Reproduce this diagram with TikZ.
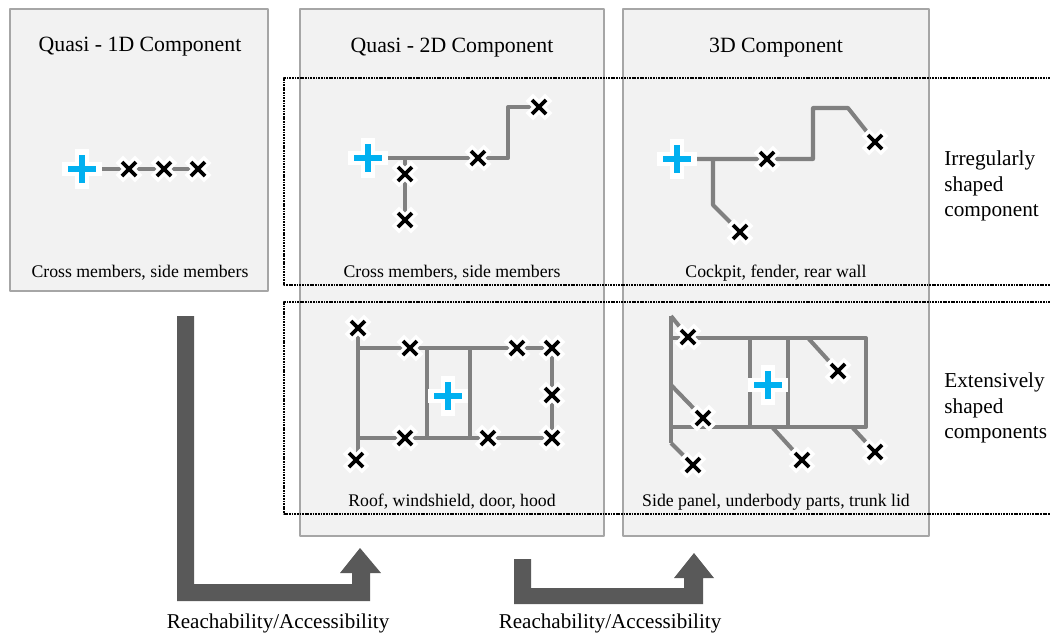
\documentclass[tikz,border=0pt]{standalone}
\usepackage{fontspec}
\setmainfont{Liberation Serif}
\definecolor{boxfill}{HTML}{F2F2F2}
\definecolor{boxline}{HTML}{A6A6A6}
\definecolor{member}{HTML}{808080}
\definecolor{weldblue}{HTML}{00B0F0}
\definecolor{arrowgray}{HTML}{595959}
\tikzset{
comp/.style={draw=boxline,fill=boxfill,line width=0.6pt},
group/.style={draw=black,dash pattern=on 1pt off 0.5pt,line width=0.8pt},
beam/.style={draw=member,line width=2.3pt},
title/.style={font=\fontsize{12.4}{14.7}\selectfont},
caption/.style={font=\fontsize{10.1}{12}\selectfont},
side/.style={font=\fontsize{12.1}{14.7}\selectfont,anchor=west,align=left,inner sep=0pt},
spot/.pic={\draw[white,line width=6pt,line cap=rect] (-6,-6)--(6,6) (-6,6)--(6,-6);
\draw[black,line width=2.1pt] (-7,-7)--(7,7) (-7,7)--(7,-7);},
origin/.pic={\draw[white,line width=7.5pt,line cap=rect] (-13,0)--(13,0) (0,-13)--(0,13);
\draw[weldblue,line width=3.4pt] (-14,0)--(14,0) (0,-14)--(0,14);}
}
\begin{document}
\begin{tikzpicture}[x=0.02cm,y=-0.02cm,line join=round]
\useasboundingbox (0,0) rectangle (1050,637);
\draw[comp] (10,9) rectangle (268,291);
\draw[comp] (300,9) rectangle (604,536);
\draw[comp] (623,9) rectangle (929,536);
\draw[group] (1050,78)--(284,78)--(284,285)--(1050,285);
\draw[group] (1050,302)--(284,302)--(284,514)--(1050,514);
\node[title] (t1) at (140,47) {Quasi - 1D Component};
\node[title] (t2) at (452,48) {Quasi - 2D Component};
\node[title] (t3) at (776,48) {3D Component};
\foreach \n/\p/\s in {c1/{140,273}/{Cross members, side members},c2/{452,273}/{Cross members, side members},
c3/{776,273}/{Cockpit, fender, rear wall},c4/{452,502}/{Roof, windshield, door, hood},
c5/{776,502}/{Side panel, underbody parts, trunk lid}}
\node[caption] (\n) at (\p) {\s};
\node[side] (irr) at (944,186) {Irregularly\\shaped\\component};
\node[side] (ext) at (944,408) {Extensively\\shaped\\components};
% 1D
\coordinate (a0) at (82,169);
\foreach \n/\x in {a1/129,a2/164,a3/198} \coordinate (\n) at (\x,169);
\draw[beam] (a0)--(a3);
% 2D irregular
\coordinate (b0) at (368,158); \coordinate (b1) at (478,158); \coordinate (b2) at (539,107);
\coordinate (b3) at (405,174); \coordinate (b4) at (405,220);
\draw[beam] (b0)--(b1)-|(508,107)--(b2);
\draw[beam] (b0-|b3)--(b4);
% 3D irregular
\coordinate (e0) at (677,159); \coordinate (e1) at (767,159); \coordinate (e2) at (875,142);
\coordinate (e3) at (740,232);
\draw[beam] (e0)--(e1)-|(813,108)--(848,108)--(e2);
\draw[beam] (713,159)--(713,205)--(e3);
% 2D extensive
\coordinate (d0) at (448,396);
\draw[beam] (358,328)--(358,460);
\draw[beam] (358,348) rectangle (552,438);
\foreach \x in {427,470} \draw[beam] (\x,348)--(\x,438);
% 3D extensive
\coordinate (f0) at (768,385);
\draw[beam] (671,316)--(671,443);
\draw[beam] (671,338) rectangle (866,427);
\foreach \x in {750,788} \draw[beam] (\x,338)--(\x,427);
\foreach \p/\q in {{671,316}/{688,337},{808,338}/{838,371},{671,385}/{703,418},
{671,443}/{693,465},{772,427}/{802,460},{852,427}/{875,452}}
\draw[beam] (\p)--(\q);
% weld spots
\foreach \p in {a1,a2,a3,b1,b2,b3,b4,e1,e2,e3,{358,328},{410,348},{517,348},{552,348},{552,395},
{405,438},{488,438},{552,438},{356,460},{688,337},{838,371},{703,418},{693,465},{802,460},{875,452}}
\pic at (\p) {spot};
\foreach \p in {a0,b0,e0,d0,f0} \pic at (\p) {origin};
% arrows
\fill[arrowgray] (177,316)--(194,316)--(194,584)--(352,584)--(352,573)--(340,573)--(360,548)
--(381,573)--(370,573)--(370,601)--(177,601)--cycle;
\fill[arrowgray] (514,559)--(531,559)--(531,588)--(684,588)--(684,578)--(674,578)--(694,553)
--(714,578)--(703,578)--(703,604)--(514,604)--cycle;
\node[font=\fontsize{12}{14}\selectfont] (r1) at (278,623) {Reachability/Accessibility};
\node[font=\fontsize{12}{14}\selectfont] (r2) at (610,623) {Reachability/Accessibility};
\end{tikzpicture}
\end{document}
